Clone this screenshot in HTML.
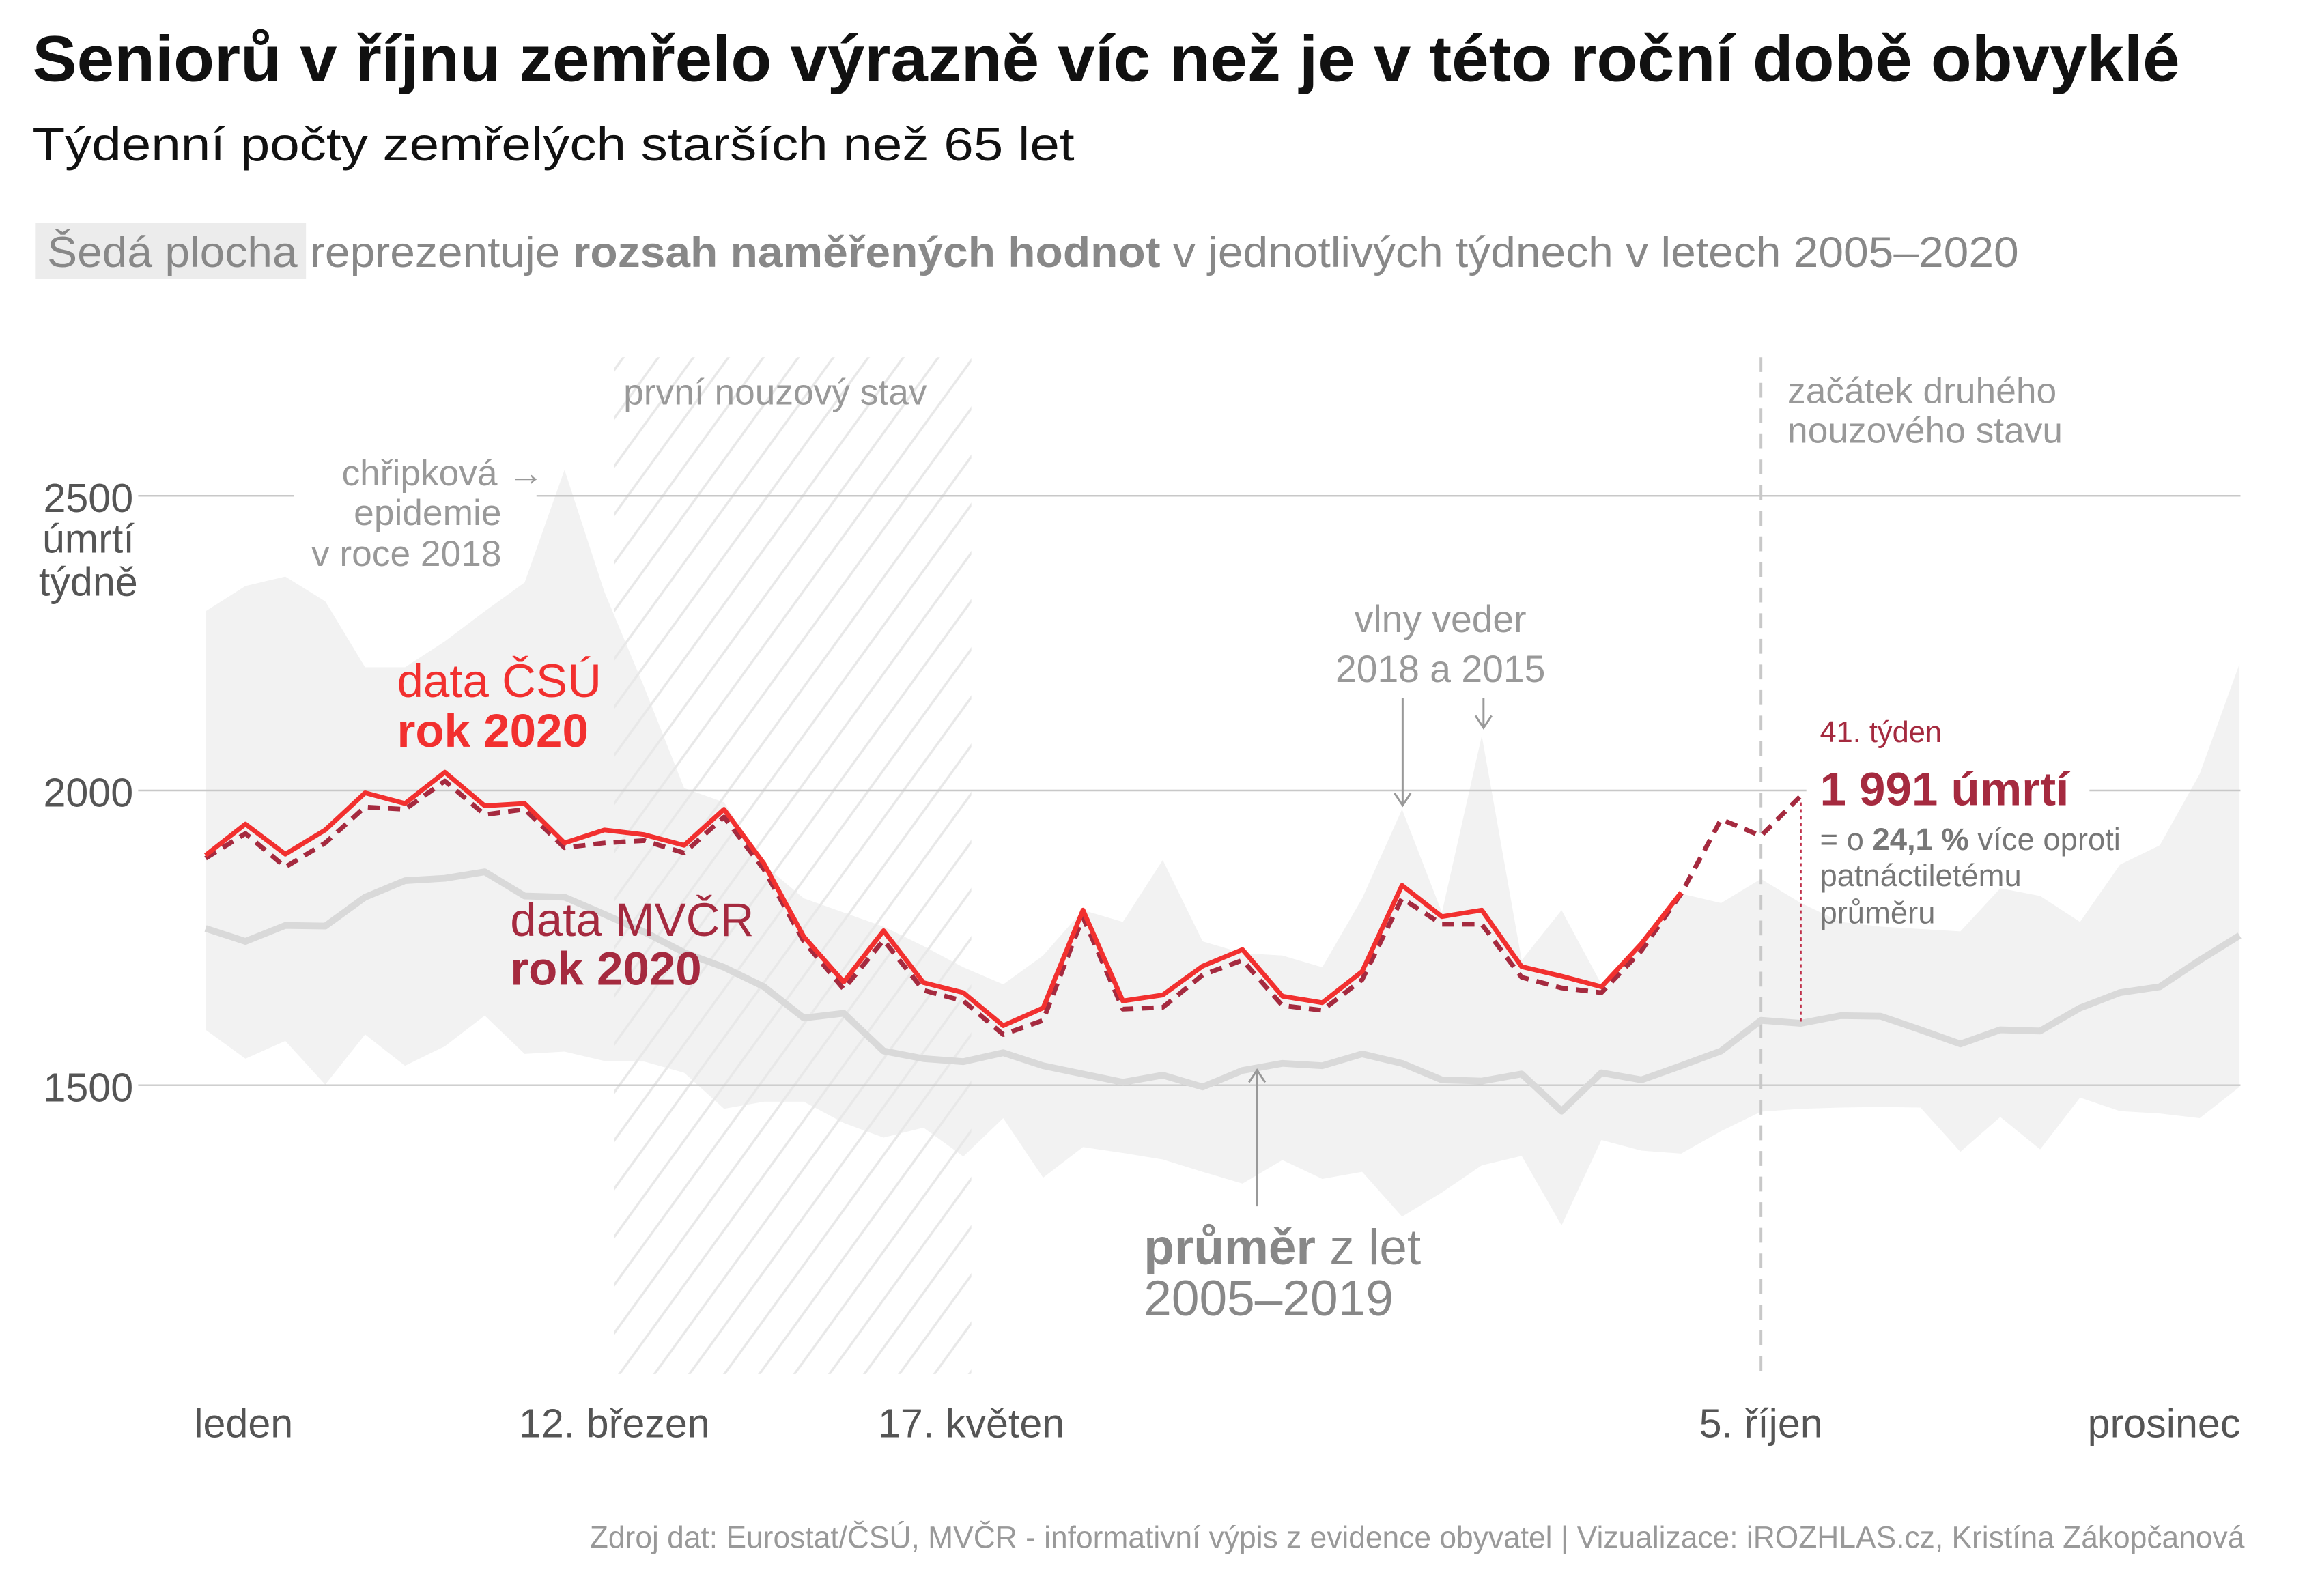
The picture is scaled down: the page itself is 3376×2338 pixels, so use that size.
<!DOCTYPE html>
<html><head><meta charset="utf-8"><style>
html,body{margin:0;padding:0;background:#fff}
svg{display:block}
text{font-family:"Liberation Sans",sans-serif}
</style></head><body>
<svg id="chart" width="3376" height="2338" viewBox="0 0 3376 2338" xmlns="http://www.w3.org/2000/svg">
<defs>
<pattern id="hatch" patternUnits="userSpaceOnUse" width="42" height="42" patternTransform="rotate(36)">
<line x1="10" y1="0" x2="10" y2="42" stroke="#e8e8e8" stroke-width="3.5"/>
</pattern>
</defs>
<g transform="scale(0.9872)">
<text x="48" y="120" font-size="96" font-weight="bold" fill="#111" textLength="3186" lengthAdjust="spacingAndGlyphs">Seniorů v říjnu zemřelo výrazně víc než je v této roční době obvyklé</text>
<text x="48" y="238" font-size="70" fill="#111" textLength="1546" lengthAdjust="spacingAndGlyphs">Týdenní počty zemřelých starších než 65 let</text>
<rect x="52" y="331" width="402" height="83" fill="#ececec"/>
<text x="70" y="396" font-size="64" fill="#888" textLength="2925" lengthAdjust="spacingAndGlyphs">Šedá plocha <tspan>reprezentuje </tspan><tspan font-weight="bold">rozsah naměřených hodnot</tspan><tspan> v jednotlivých týdnech v letech 2005–2020</tspan></text>

<g id="plot"></g>

<text x="3330" y="2297" font-size="46" fill="#999" text-anchor="end" textLength="2455" lengthAdjust="spacingAndGlyphs">Zdroj dat: Eurostat/ČSÚ, MVČR - informativní výpis z evidence obyvatel | Vizualizace: iROZHLAS.cz, Kristína Zákopčanová</text>
</g>
</svg>
<script>
const weeks = [1,2,3,4,5,6,7,8,9,10,11,12,13,14,15,16,17,18,19,20,21,22,23,24,25,26,27,28,29,30,31,32,33,34,35,36,37,38,39,40,41,42,43,44,45,46,47,48,49,50,51,52];
const bandMax = [2304,2347,2363,2321,2209,2209,2253,2304,2353,2544,2337,2175,2004,1980,1874,1817,1793,1769,1736,1700,1671,1720,1797,1777,1882,1744,1724,1720,1700,1817,1968,1793,2093,1712,1797,1671,1744,1825,1809,1850,1809,1777,1769,1765,1761,1834,1821,1777,1874,1907,2028,2215];
const bandMin = [1594,1545,1575,1501,1586,1533,1566,1618,1553,1557,1541,1540,1521,1460,1472,1472,1436,1411,1428,1379,1444,1343,1395,1385,1374,1353,1333,1373,1341,1353,1277,1318,1364,1380,1262,1407,1389,1384,1422,1455,1460,1462,1463,1462,1387,1446,1391,1479,1456,1452,1444,1497];
const avg = [1766,1744,1771,1770,1819,1847,1851,1862,1821,1819,1790,1760,1725,1700,1667,1614,1622,1558,1545,1540,1555,1533,1519,1505,1517,1497,1525,1537,1533,1553,1537,1509,1507,1519,1456,1521,1509,1533,1558,1610,1605,1618,1617,1594,1570,1594,1592,1631,1657,1667,1712,1754];
const csu = [1890,1943,1892,1933,1996,1978,2031,1974,1978,1911,1933,1925,1907,1968,1876,1752,1675,1762,1674,1657,1601,1631,1797,1643,1653,1702,1730,1651,1640,1693,1839,1786,1797,1701,1685,1667,1740,1827];
const mvcr = [1885,1927,1870,1911,1972,1968,2016,1959,1968,1903,1911,1915,1894,1955,1866,1744,1663,1746,1661,1643,1586,1610,1785,1629,1632,1687,1712,1635,1627,1679,1817,1773,1773,1683,1665,1657,1728,1825,1951,1923,1991];
const yTicks = [1500,2000,2500];
const yTickLabels = ["1500","2000","2500"];
const periodStart = 11.25;
const periodEnd = 20.2;
const secondStart = 40;

const X = w => 305 + (w-1)*59.17;
const Y = v => 1173 - (v-2000)*0.8746;
const NS = "http://www.w3.org/2000/svg";
const plot = document.getElementById('plot');
function mk(tag, attrs, parent){const e=document.createElementNS(NS,tag);for(const k in attrs)e.setAttribute(k,attrs[k]);(parent||plot).appendChild(e);return e;}
function txt(s, attrs){const e=mk('text',attrs);e.textContent=s;return e;}
const plotTop=530, plotBottom=2039;

let d = weeks.map((w,i)=>(i?'L':'M')+X(w)+','+Y(bandMax[i])).join('');
for(let i=weeks.length-1;i>=0;i--) d+='L'+X(weeks[i])+','+Y(bandMin[i]);
let band = mk('path',{d:d+'Z',fill:'#f2f2f2'});



let hatch = mk('rect',{x:X(periodStart),y:plotTop,width:X(periodEnd)-X(periodStart),height:plotBottom-plotTop,fill:'url(#hatch)'});



yTicks.forEach((v,i)=>{
  const g = mk('line',{x1:205,x2:3324,y1:Y(v),y2:Y(v),stroke:'#c8c8c8','stroke-width':2.5});
  
  
});
mk('rect',{x:436,y:Y(2500)-20,width:360,height:40,fill:'#fff'});
mk('rect',{x:2680,y:Y(2000)-20,width:420,height:40,fill:'#fff'});
yTicks.forEach((v,i)=>{
  const t = txt(yTickLabels[i],{x:131,y:Y(v)+24,'font-size':60,fill:'#555','text-anchor':'middle'});
  
  
});
let yt1 = txt('úmrtí',{x:131,y:820,'font-size':60,fill:'#555','text-anchor':'middle'});


let yt2 = txt('týdně',{x:131,y:884,'font-size':60,fill:'#555','text-anchor':'middle'});



let sec = mk('line',{x1:X(secondStart),x2:X(secondStart),y1:plotTop,y2:plotBottom,stroke:'#c8c8c8','stroke-width':4,'stroke-dasharray':'22,16'});



let avgLine = mk('path',{d:weeks.map((w,i)=>(i?'L':'M')+X(w)+','+Y(avg[i])).join(''),fill:'none',stroke:'#d9d9d9','stroke-width':10,'stroke-linejoin':'round'});



let mv = mk('path',{d:mvcr.map((v,i)=>(i?'L':'M')+X(weeks[i])+','+Y(v)).join(''),fill:'none',stroke:'#a52a3f','stroke-width':7,'stroke-dasharray':'18,12','stroke-linejoin':'round'});


let cs = mk('path',{d:csu.map((v,i)=>(i?'L':'M')+X(weeks[i])+','+Y(v)).join(''),fill:'none',stroke:'#f2302f','stroke-width':7,'stroke-linejoin':'round'});



const xl=[['leden',288,'start'],['12. březen',X(periodStart),'middle'],['17. květen',X(periodEnd),'middle'],['5. říjen',X(secondStart),'middle'],['prosinec',3324,'end']];
xl.forEach(a=>{
  const t=txt(a[0],{x:a[1],y:2133,'font-size':60,fill:'#555','text-anchor':a[2]});
  
  
});

const ann=(s,x,y,size,fill,anchor,weight,name)=>{const t=txt(s,{x:x,y:y,'font-size':size,fill:fill,'text-anchor':anchor||'start','font-weight':weight||'normal'});return t;};
ann('první nouzový stav',925,600,54,'#999','start','normal','first-emergency-label');
ann('začátek druhého',2652,598,54,'#999','start','normal','second-emergency-label');
ann('nouzového stavu',2652,657,54,'#999','start','normal','second-emergency-label');
ann('chřipková →',807,720,54,'#999','end','normal','flu-annotation');
ann('epidemie',744,779,54,'#999','end','normal','flu-annotation');
ann('v roce 2018',744,840,54,'#999','end','normal','flu-annotation');
ann('data ČSÚ',589,1034,70,'#f2302f','start','normal','csu-label');
ann('rok 2020',589,1108,70,'#f2302f','start','bold','csu-label');
ann('data MVČR',757,1389,70,'#a52a3f','start','normal','mvcr-label');
ann('rok 2020',757,1461,70,'#a52a3f','start','bold','mvcr-label');
ann('vlny veder',2137,938,56,'#999','middle','normal','heatwave-annotation');
ann('2018 a 2015',2137,1012,56,'#999','middle','normal','heatwave-annotation');
const arrow=(x,y1,y2,name)=>{const g=mk('path',{d:`M${x},${y1}L${x},${y2}M${x-12},${y2+(y2>y1?-18:18)}L${x},${y2}L${x+12},${y2+(y2>y1?-18:18)}`,fill:'none',stroke:'#999','stroke-width':3});};
arrow(2081,1036,1195,'heatwave-arrow');
arrow(2201,1036,1080,'heatwave-arrow');
arrow(1865,1790,1588,'average-arrow');
const p=ann('průměr',1697,1876,74,'#888','start','bold','average-label');
const p2=document.createElementNS(NS,'tspan');p2.setAttribute('font-weight','normal');p2.textContent=' z let';p.appendChild(p2);
ann('2005–2019',1697,1952,74,'#888','start','normal','average-label');
ann('41. týden',2700,1101,44,'#a52a3f','start','normal','week41-label');
ann('1 991 úmrtí',2700,1195,70,'#a52a3f','start','bold','week41-value');
const q=ann('= o ',2700,1261,46,'#777','start','normal','week41-note');
const qb=document.createElementNS(NS,'tspan');qb.setAttribute('font-weight','bold');qb.textContent='24,1 %';q.appendChild(qb);
const qc=document.createElementNS(NS,'tspan');qc.textContent=' více oproti';q.appendChild(qc);
ann('patnáctiletému',2700,1315,46,'#777','start','normal','week41-note');
ann('průměru',2700,1370,46,'#777','start','normal','week41-note');
let dl = mk('line',{x1:X(41),x2:X(41),y1:Y(mvcr[40])+10,y2:Y(avg[40]),stroke:'#c0304a','stroke-width':2.5,'stroke-dasharray':'5,5'});


</script>
</body></html>
